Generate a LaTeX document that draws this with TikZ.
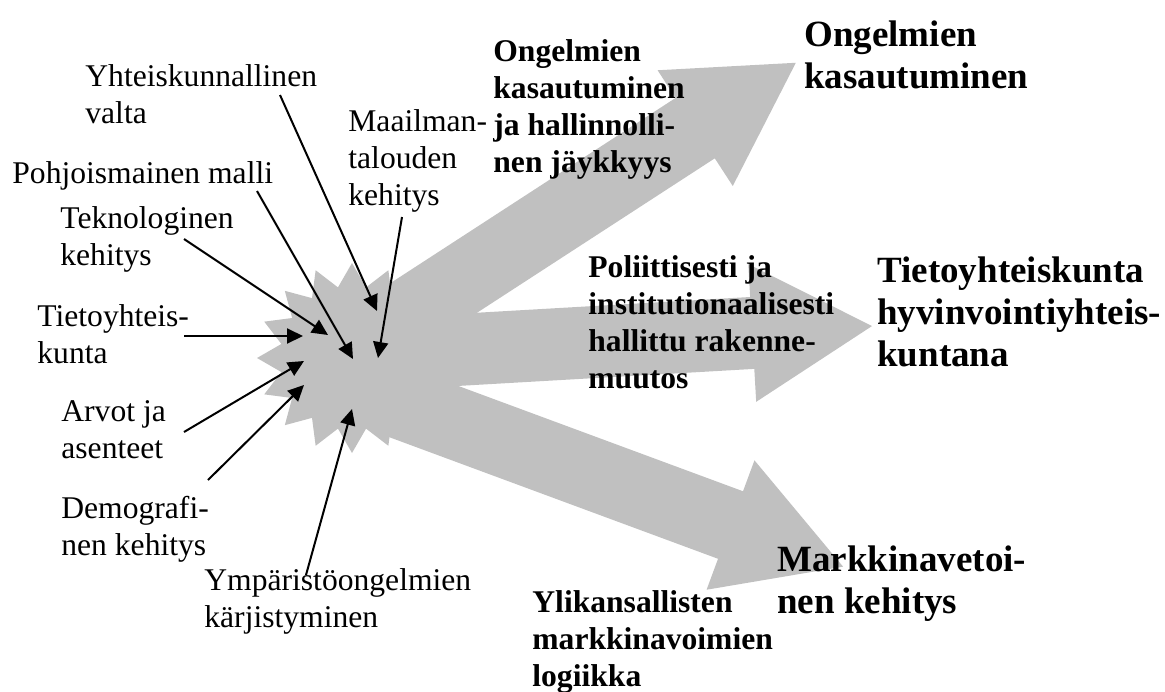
\documentclass[tikz,border=0pt]{standalone}
\usepackage{fontspec}
\setmainfont{Liberation Serif}
\usetikzlibrary{arrows.meta}
\definecolor{burstgray}{RGB}{192,192,192}
\begin{document}
\begin{tikzpicture}[x=0.5pt,y=-0.5pt,
  lbl/.style={anchor=base west, inner sep=0pt, align=left, font=\fontsize{15.8}{18.3}\selectfont},
  midlbl/.style={anchor=base west, inner sep=0pt, align=left, font=\fontsize{15.8}{18.4}\selectfont\bfseries},
  biglbl/.style={anchor=base west, inner sep=0pt, align=left, font=\fontsize{18.5}{21}\selectfont\bfseries},
  feed/.style={-{Triangle[length=8pt,width=7.5pt]}, line width=1pt},
  pics/bigarrow/.style={code={\fill[burstgray] (0,-36) -- ({#1-120},-36) -- ({#1-120},-69) -- (#1,0) -- ({#1-120},69) -- ({#1-120},36) -- (0,36) -- cycle;}}
]
\useasboundingbox (0,0) rectangle (1165,691);

% big gray arrows
\pic[rotate=33.0] at (352,351) {bigarrow=529.2};
\pic[rotate=3.3] at (352,356) {bigarrow=520.9};
\pic[rotate=-20.3] at (352,385) {bigarrow=523.6};

% starburst
\fill[burstgray] plot[samples at={0,...,31}, variable=\k]
  ({352+(83.5+11.5*cos(\k*180))*cos(90+\k*11.25)}, {358-(83.5+11.5*cos(\k*180))*sin(90+\k*11.25)}) -- cycle;
\coordinate (burst) at (352,358);

% labels, left side (anchored at baseline of last line)
\node[lbl] (yht) at (85,123) {Yhteiskunnallinen\\valta};
\node[lbl] (pohj) at (12,183) {Pohjoismainen malli};
\node[lbl] (tekn) at (60,265) {Teknologinen\\kehitys};
\node[lbl] (tieto) at (37,363) {Tietoyhteis-\\kunta};
\node[lbl] (arvot) at (61,458) {Arvot ja\\asenteet};
\node[lbl] (demo) at (61,555) {Demografi-\\nen kehitys};
\node[lbl] (ymp) at (204,627) {Ympäristöongelmien\\kärjistyminen};
\node[lbl] (maail) at (348,205) {Maailman-\\talouden\\kehitys};

% labels on the arrows
\node[midlbl] (path1) at (493,172) {Ongelmien\\kasautuminen\\ja hallinnolli-\\nen jäykkyys};
\node[midlbl] (path2) at (588,388) {Poliittisesti ja\\institutionaalisesti\\hallittu rakenne-\\muutos};
\node[midlbl] (path3) at (532,686) {Ylikansallisten\\markkinavoimien\\logiikka};

% outcomes
\node[biglbl] (out1) at (804,88) {Ongelmien\\kasautuminen};
\node[biglbl] (out2) at (877,366) {Tietoyhteiskunta\\hyvinvointiyhteis-\\kuntana};
\node[biglbl] (out3) at (777,613) {Markkinavetoi-\\nen kehitys};

% feeder arrow ends
\coordinate (sYht) at (280,95);   \coordinate (eYht) at (377,311);
\coordinate (sPohj) at (257,191); \coordinate (ePohj) at (353,359);
\coordinate (sTekn) at (184,239); \coordinate (eTekn) at (328,335);
\coordinate (sTieto) at (184,336);\coordinate (eTieto) at (303,336);
\coordinate (sArvot) at (184,432);\coordinate (eArvot) at (304,361);
\coordinate (sDemo) at (208,480); \coordinate (eDemo) at (304,385);
\coordinate (sYmp) at (306,575);  \coordinate (eYmp) at (352,409);
\coordinate (sMaail) at (402,217);\coordinate (eMaail) at (378,358);

\draw[feed] (sYht) -- (eYht);
\draw[feed] (sPohj) -- (ePohj);
\draw[feed] (sTekn) -- (eTekn);
\draw[feed] (sTieto) -- (eTieto);
\draw[feed] (sArvot) -- (eArvot);
\draw[feed] (sDemo) -- (eDemo);
\draw[feed] (sYmp) -- (eYmp);
\draw[feed] (sMaail) -- (eMaail);
\end{tikzpicture}
\end{document}
